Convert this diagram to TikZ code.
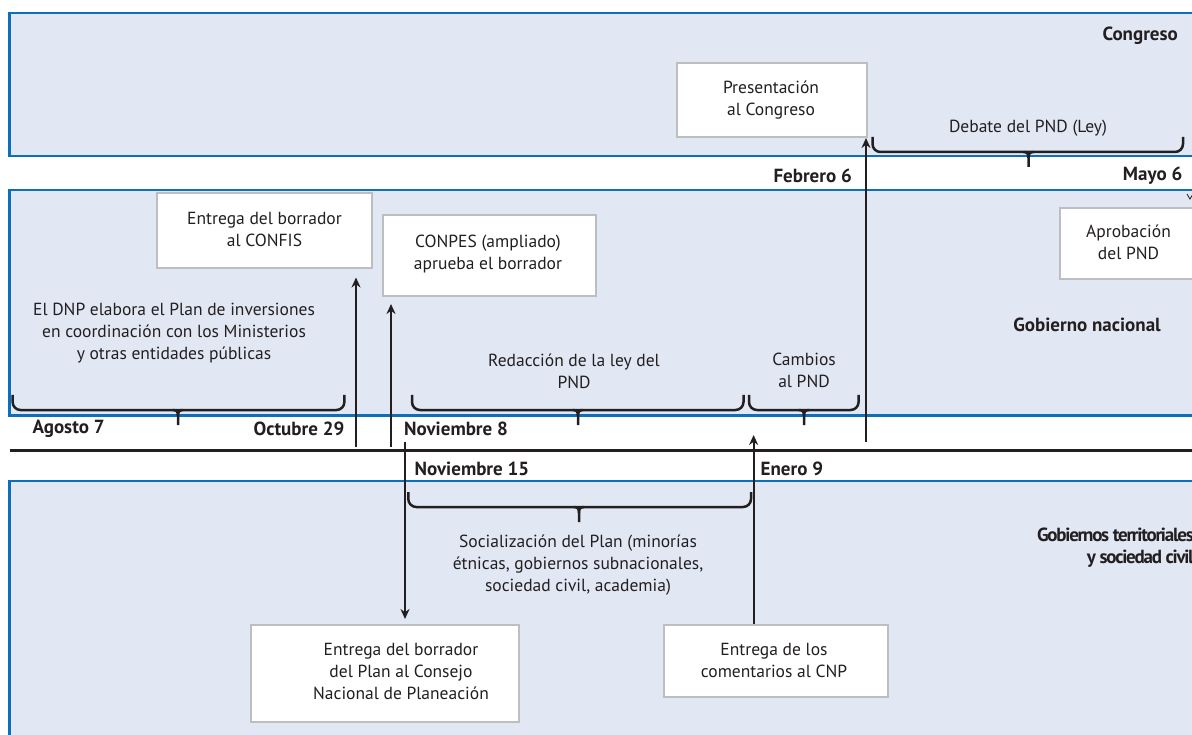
\documentclass[tikz,border=0pt]{standalone}
\usepackage{fontspec}
\setmainfont{PT Sans}
\newfontfamily\condbold[LetterSpace=-6.5]{PT Sans Bold}
\usetikzlibrary{arrows.meta}
\definecolor{bandfill}{HTML}{E1E8F4}
\definecolor{bandline}{HTML}{0D6EBA}
\definecolor{boxline}{HTML}{BDBEC0}
\definecolor{ink}{HTML}{231F20}
\newcommand{\mybrace}[4]{% x1, x2, xtip, ytop
  \draw[bracestyle, rounded corners=8pt] (#1,#4) -- (#1,#4+15) -- (#2,#4+15) -- (#2,#4);
  \draw[bracestyle] (#3-5,#4+15) .. controls (#3-1,#4+15) and (#3,#4+17) .. (#3,#4+21) -- (#3,#4+30);
  \draw[bracestyle] (#3+5,#4+15) .. controls (#3+1,#4+15) and (#3,#4+17) .. (#3,#4+21);
}
\tikzset{
  band/.style={fill=bandfill, draw=bandline, line width=2.5pt},
  evbox/.style={draw=boxline, fill=white, line width=2pt, inner sep=0pt},
  txt/.style={align=center, inner sep=0pt, text=ink, font=\fontsize{17.5}{22}\selectfont},
  datelab/.style={inner sep=0pt, text=ink, font=\fontsize{19}{22}\selectfont\bfseries},
  arr/.style={draw=ink, line width=2pt, -{Stealth[length=10pt,width=9pt]}},
  bracestyle/.style={draw=ink, line width=2.5pt},
  tl/.style={draw=ink, line width=3pt},
}
\begin{document}
\begin{tikzpicture}[x=1pt,y=-1pt]
\useasboundingbox (0,0) rectangle (1192,735);
\fill[white] (0,0) rectangle (1192,735);
\clip (0,0) rectangle (1192,735);
% bands
\draw[band] (9.5,13) rectangle (1210,156);
\draw[band] (9.5,190) rectangle (1210,415.5);
\draw[band] (9.5,481) rectangle (1210,760);
% timeline
\draw[tl] (9.5,450) -- (1200,450);
% band titles
\node[datelab, anchor=east] (congreso) at (1178,36) {Congreso};
\node[datelab, anchor=east] (gobnac) at (1161,325) {Gobierno nacional};
\node[inner sep=0pt, text=ink, align=right, anchor=east, font=\fontsize{19}{21.5}\selectfont\condbold] (gobter) at (1194,547.5) {Gobiernos territoriales\\y sociedad civil};
% dates
\node[datelab, anchor=west] (agosto) at (32.5,429) {Agosto 7};
\node[datelab, anchor=east] (octubre) at (344.5,429) {Octubre 29};
\node[datelab, anchor=west] (nov8) at (404,429) {Noviembre 8};
\node[datelab, anchor=west] (nov15) at (414.5,469) {Noviembre 15};
\node[datelab, anchor=west] (enero) at (760.5,469) {Enero 9};
\node[datelab, anchor=east] (febrero) at (852,176) {Febrero 6};
\node[datelab, anchor=east] (mayo) at (1182.5,176) {Mayo 6};
% boxes
\node[evbox, minimum width=215pt, minimum height=75pt] (confis) at (264.5,230.5) {};
\node[txt] (confist) at (264.5,229.5) {Entrega del borrador\\al CONFIS};
\node[evbox, minimum width=213pt, minimum height=81pt] (conpes) at (489.5,255.5) {};
\node[txt] (conpest) at (488,254) {CONPES (ampliado)\\aprueba el borrador};
\node[evbox, minimum width=190pt, minimum height=74pt] (present) at (772,100) {};
\node[txt] (presentt) at (771,100.5) {Presentación\\al Congreso};
\node[evbox, minimum width=137pt, minimum height=71pt] (aprob) at (1128.5,243.5) {};
\node[txt] (aprobt) at (1128.5,242.5) {Aprobación\\del PND};
\node[evbox, minimum width=268pt, minimum height=97pt] (plan) at (384.8,673.5) {};
\node[txt] (plant) at (401,671.5) {Entrega del borrador\\del Plan al Consejo\\Nacional de Planeación};
\node[evbox, minimum width=224pt, minimum height=72pt] (coment) at (776,661) {};
\node[txt] (comentt) at (774,660) {Entrega de los\\comentarios al CNP};
% activity texts
\node[txt] (dnp) at (174,333) {El DNP elabora el Plan de inversiones\\en coordinación con los Ministerios\\y otras entidades públicas};
\node[txt] (redac) at (574,371) {Redacción de la ley del\\PND};
\node[txt] (cambios) at (804,370.5) {Cambios\\al PND};
\node[txt] (debate) at (1028,128) {Debate del PND (Ley)};
\node[txt] (social) at (578,565) {Socialización del Plan (minorías\\étnicas, gobiernos subnacionales,\\sociedad civil, academia)};
% braces
\mybrace{12.6}{344.4}{178}{395}
\mybrace{412}{743.5}{578}{395}
\mybrace{749}{858.6}{804}{395}
\mybrace{872.5}{1183}{1028.5}{137}
\mybrace{408.3}{751}{579}{492}
% arrows
\coordinate (s1) at (356,447);
\coordinate (s2) at (391,447);
\coordinate (s3) at (405,442);
\coordinate (e4) at (753.6,435);
\coordinate (s5) at (866,442);
\draw[arr, shorten >=8.5pt] (s1) -- (s1 |- confis.south);
\draw[arr, shorten >=7pt] (s2) -- (s2 |- conpes.south);
\draw[arr, shorten >=5pt] (s3) -- (s3 |- plan.north);
\draw[arr] (e4 |- coment.north) -- (e4);
\draw[arr] (s5) -- (s5 |- present.south);
% small mark at right edge near Mayo 6
\coordinate (vm) at (1190,199);
\draw[draw=ink, line width=0.8pt] (1187,194) -- (vm) -- (1193,194);
\end{tikzpicture}
\end{document}
